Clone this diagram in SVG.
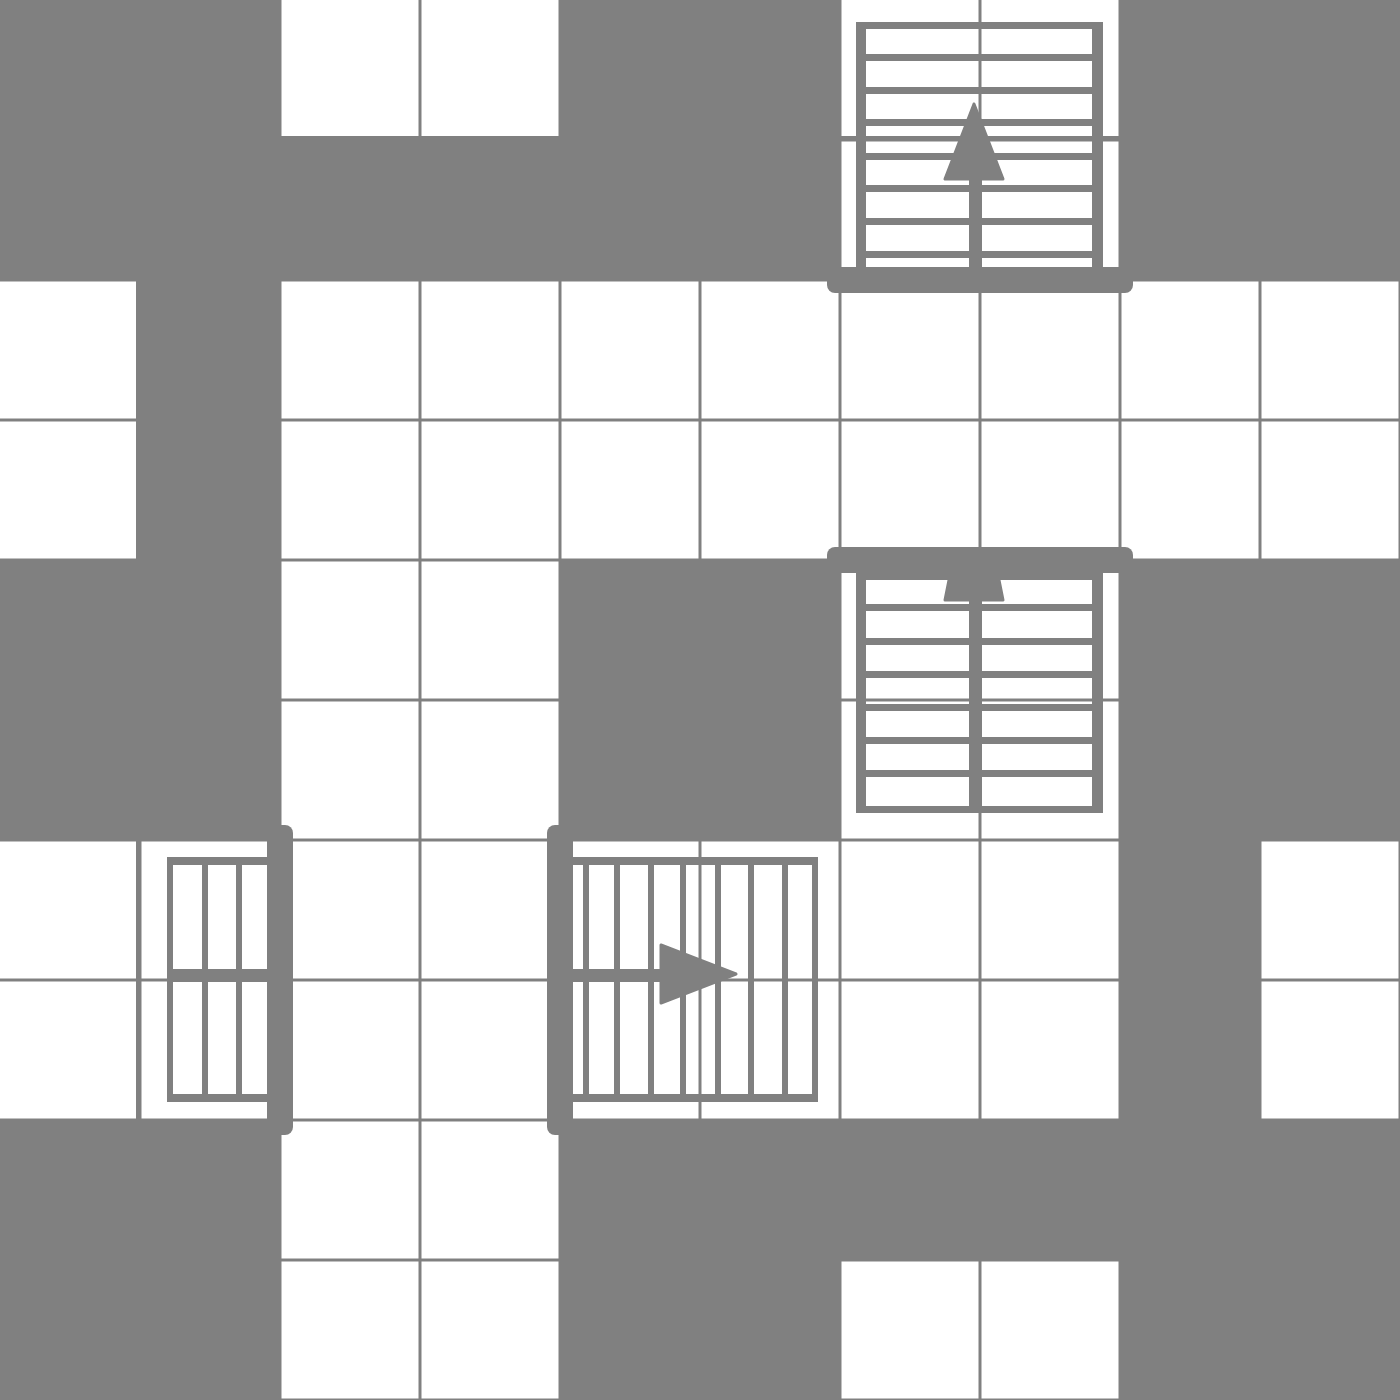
<svg xmlns="http://www.w3.org/2000/svg" width="1400" height="1400" viewBox="0 0 1400 1400">
  <style>
    .bg { fill: #808080; }
    .cell { fill: #ffffff; }
    .ink { fill: #808080; }
    .arrow { fill: #808080; stroke: #808080; stroke-width: 3; stroke-linejoin: round; }
  </style>
  <defs>
    <rect id="c" class="cell" width="137" height="137"/>
  </defs>
  <rect class="bg" x="0" y="0" width="1400" height="1400"/>
  <g id="floor">
    <!-- row 0 -->
    <use href="#c" x="281.5" y="-1"/><use href="#c" x="421.5" y="-1"/>
    <use href="#c" x="841.5" y="-1"/><use href="#c" x="981.5" y="-1"/>
    <!-- row 1 -->
    <use href="#c" x="841.5" y="141.5"/><use href="#c" x="981.5" y="141.5"/>
    <!-- row 2 -->
    <use href="#c" x="-1" y="281.5"/>
    <use href="#c" x="281.5" y="281.5"/><use href="#c" x="421.5" y="281.5"/><use href="#c" x="561.5" y="281.5"/><use href="#c" x="701.5" y="281.5"/>
    <use href="#c" x="841.5" y="281.5"/><use href="#c" x="981.5" y="281.5"/><use href="#c" x="1121.5" y="281.5"/><use href="#c" x="1261.5" y="281.5"/>
    <!-- row 3 -->
    <use href="#c" x="-1" y="421.5"/>
    <use href="#c" x="281.5" y="421.5"/><use href="#c" x="421.5" y="421.5"/><use href="#c" x="561.5" y="421.5"/><use href="#c" x="701.5" y="421.5"/>
    <use href="#c" x="841.5" y="421.5"/><use href="#c" x="981.5" y="421.5"/><use href="#c" x="1121.5" y="421.5"/><use href="#c" x="1261.5" y="421.5"/>
    <!-- row 4 -->
    <use href="#c" x="281.5" y="561.5"/><use href="#c" x="421.5" y="561.5"/>
    <use href="#c" x="841.5" y="561.5"/><use href="#c" x="981.5" y="561.5"/>
    <!-- row 5 -->
    <use href="#c" x="281.5" y="701.5"/><use href="#c" x="421.5" y="701.5"/>
    <use href="#c" x="841.5" y="701.5"/><use href="#c" x="981.5" y="701.5"/>
    <!-- row 6 -->
    <use href="#c" x="-1" y="841.5"/><use href="#c" x="141.5" y="841.5"/>
    <use href="#c" x="281.5" y="841.5"/><use href="#c" x="421.5" y="841.5"/><use href="#c" x="561.5" y="841.5"/><use href="#c" x="701.5" y="841.5"/>
    <use href="#c" x="841.5" y="841.5"/><use href="#c" x="981.5" y="841.5"/><use href="#c" x="1261.5" y="841.5"/>
    <!-- row 7 -->
    <use href="#c" x="-1" y="981.5"/><use href="#c" x="141.5" y="981.5"/>
    <use href="#c" x="281.5" y="981.5"/><use href="#c" x="421.5" y="981.5"/><use href="#c" x="561.5" y="981.5"/><use href="#c" x="701.5" y="981.5"/>
    <use href="#c" x="841.5" y="981.5"/><use href="#c" x="981.5" y="981.5"/><use href="#c" x="1261.5" y="981.5"/>
    <!-- row 8 -->
    <use href="#c" x="281.5" y="1121.5"/><use href="#c" x="421.5" y="1121.5"/>
    <!-- row 9 -->
    <use href="#c" x="281.5" y="1261.5"/><use href="#c" x="421.5" y="1261.5"/>
    <use href="#c" x="841.5" y="1261.5"/><use href="#c" x="981.5" y="1261.5"/>
  </g>

  <g id="stairs-top">
    <rect class="ink" x="856" y="22" width="10" height="258"/>
    <rect class="ink" x="1092" y="22" width="11" height="258"/>
    <rect class="ink" x="856" y="22" width="247" height="7"/>
    <rect class="ink" x="866" y="54" width="226" height="7"/>
    <rect class="ink" x="866" y="87" width="226" height="7"/>
    <rect class="ink" x="866" y="119" width="226" height="7"/>
    <rect class="ink" x="866" y="153" width="226" height="7"/>
    <rect class="ink" x="866" y="185" width="226" height="7"/>
    <rect class="ink" x="866" y="218" width="226" height="7"/>
    <rect class="ink" x="866" y="251" width="226" height="7"/>
    <rect class="ink" x="969" y="176" width="13" height="95"/>
    <polygon class="arrow" points="974,104 945,179 1003,179"/>
    <rect class="ink" x="827" y="267" width="306" height="26" rx="8"/>
  </g>

  <g id="stairs-middle">
    <rect class="ink" x="856" y="560" width="10" height="253"/>
    <rect class="ink" x="1092" y="560" width="11" height="253"/>
    <rect class="ink" x="856" y="806" width="247" height="7"/>
    <rect class="ink" x="866" y="572" width="226" height="8"/>
    <rect class="ink" x="866" y="604" width="226" height="7"/>
    <rect class="ink" x="866" y="638" width="226" height="7"/>
    <rect class="ink" x="866" y="671" width="226" height="7"/>
    <rect class="ink" x="866" y="704" width="226" height="7"/>
    <rect class="ink" x="866" y="737" width="226" height="7"/>
    <rect class="ink" x="866" y="770" width="226" height="7"/>
    <rect class="ink" x="969" y="598" width="13" height="210"/>
    <polygon class="arrow" points="951,570 997,570 1003,600 945,600"/>
    <rect class="ink" x="827" y="547" width="306" height="26" rx="8"/>
  </g>

  <g id="stairs-left">
    <rect class="ink" x="167" y="857" width="106" height="8"/>
    <rect class="ink" x="167" y="1094" width="106" height="8"/>
    <rect class="ink" x="167" y="857" width="6" height="245"/>
    <rect class="ink" x="202" y="865" width="6" height="229"/>
    <rect class="ink" x="236" y="865" width="6" height="229"/>
    <rect class="ink" x="173" y="969" width="98" height="13"/>
    <rect class="ink" x="267" y="825" width="26" height="310" rx="8"/>
  </g>

  <g id="stairs-right">
    <rect class="ink" x="567" y="857" width="251" height="8"/>
    <rect class="ink" x="567" y="1094" width="251" height="8"/>
    <rect class="ink" x="812" y="857" width="6" height="245"/>
    <rect class="ink" x="583" y="865" width="6" height="229"/>
    <rect class="ink" x="614" y="865" width="6" height="229"/>
    <rect class="ink" x="648" y="865" width="6" height="229"/>
    <rect class="ink" x="680" y="865" width="6" height="229"/>
    <rect class="ink" x="715" y="865" width="6" height="229"/>
    <rect class="ink" x="748" y="865" width="6" height="229"/>
    <rect class="ink" x="782" y="865" width="6" height="229"/>
    <rect class="ink" x="570" y="969" width="94" height="13"/>
    <polygon class="arrow" points="661,945 661,1003 736,974"/>
    <rect class="ink" x="547" y="825" width="26" height="310" rx="8"/>
  </g>
</svg>
